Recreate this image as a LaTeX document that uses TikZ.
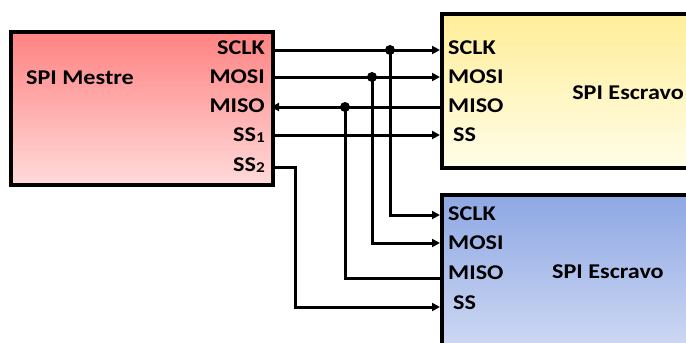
\documentclass[tikz,border=0pt]{standalone}
\usepackage{fontspec}
\setmainfont{Carlito}
\newfontfamily\wfont[FakeStretch=1.15]{Carlito}
\usetikzlibrary{arrows.meta}
\begin{document}
\begin{tikzpicture}[x=1pt,y=-1pt,
 box/.style={draw=black, line width=4pt, anchor=north west, inner sep=0},
 lbl/.style={font=\wfont\bfseries\fontsize{21}{21}\selectfont, inner sep=0},
 wire/.style={line width=3pt},
 arr/.style={wire,-{Triangle[length=8pt,width=8pt]}},
 jdot/.style={circle, fill=black, minimum size=10pt, inner sep=0}]
\useasboundingbox (0,0) rectangle (686,343);
\clip (0,0) rectangle (686,343);
\definecolor{mtop}{HTML}{FF8282}
\definecolor{mbot}{HTML}{FFDADA}
\definecolor{ytop}{HTML}{FFEE99}
\definecolor{ybot}{HTML}{FFFDE8}
\definecolor{btop}{HTML}{8EA8E4}
\definecolor{bbot}{HTML}{E2E7F7}
% boxes
\node[box, minimum width=262pt, minimum height=153pt, top color=mtop, bottom color=mbot] (master) at (9,30) {};
\node[box, minimum width=300pt, minimum height=154pt, top color=ytop, bottom color=ybot] (slaveA) at (440,12) {};
\node[box, minimum width=300pt, minimum height=200pt, top color=btop, bottom color=bbot] (slaveB) at (440,193) {};
% titles
\node[lbl, anchor=west] (tm) at (26,78) {SPI Mestre};
\node[lbl, anchor=east] (ta) at (684,93) {SPI Escravo};
\node[lbl, anchor=west] (tb) at (552,272) {SPI Escravo};
% master labels
\node[lbl, anchor=east] (mlA) at (265,48) {SCLK};
\node[lbl, anchor=east] (mlB) at (265,77) {MOSI};
\node[lbl, anchor=east] (mlC) at (265,106) {MISO};
\node[lbl, anchor=east] (mlD) at (265,135) {SS\raisebox{-1.5pt}{\fontsize{15}{15}\selectfont 1}};
\node[lbl, anchor=east] (mlE) at (265,165) {SS\raisebox{-1.5pt}{\fontsize{15}{15}\selectfont 2}};
% slave A labels
\node[lbl, anchor=west] (alA) at (448,48) {SCLK};
\node[lbl, anchor=west] (alB) at (448,77) {MOSI};
\node[lbl, anchor=west] (alC) at (448,106) {MISO};
\node[lbl, anchor=west] (alD) at (453,135) {SS};
% slave B labels
\node[lbl, anchor=west] (blA) at (448,214) {SCLK};
\node[lbl, anchor=west] (blB) at (448,243) {MOSI};
\node[lbl, anchor=west] (blC) at (448,273) {MISO};
\node[lbl, anchor=west] (blD) at (453,303) {SS};
% port coordinates
\coordinate (mA) at (271,50);
\coordinate (mB) at (271,77);
\coordinate (mC) at (271,107);
\coordinate (mD) at (271,135);
\coordinate (mE) at (271,167);
\coordinate (aA) at (440,50);
\coordinate (aB) at (440,77);
\coordinate (aC) at (440,107);
\coordinate (aD) at (440,135);
\coordinate (bA) at (440,215);
\coordinate (bB) at (440,243);
\coordinate (bC) at (440,278);
\coordinate (bD) at (440,307);
\coordinate (jA) at (390,50);
\coordinate (jB) at (372,77);
\coordinate (jC) at (345,107);
\coordinate (kE) at (295,167);
% wires
\draw[arr] (mA) -- (aA);
\draw[arr] (mB) -- (aB);
\draw[arr] (aC) -- (mC);
\draw[arr] (mD) -- (aD);
\draw[arr] (jA) |- (bA);
\draw[arr] (jB) |- (bB);
\draw[wire] (bC) -| (jC);
\draw[arr] (mE) -- (kE) |- (bD);
\node[jdot] (dA) at (jA) {};
\node[jdot] (dB) at (jB) {};
\node[jdot] (dC) at (jC) {};
\end{tikzpicture}
\end{document}
